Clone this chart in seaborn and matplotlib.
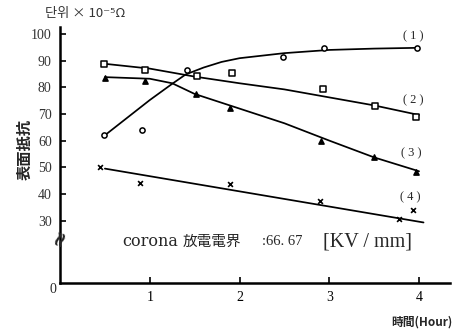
import matplotlib
matplotlib.use("Agg")
import matplotlib.pyplot as plt
import seaborn as sns
import pandas as pd

# ---- data ----
# curve (line) values
curve1_x = [0.5, 1.0, 1.25, 1.4, 1.6, 1.8, 2.0, 2.5, 3.0, 3.5, 4.0]
curve1 = [62.0, 75.2, 81.3, 84.8, 87.4, 89.5, 90.9, 92.8, 94.0, 94.5, 94.8]
curve2_x = [0.5, 1.0, 1.5, 2.0, 2.5, 3.0, 3.5, 4.0]
curve2 = [88.8, 87.0, 84.0, 81.5, 79.2, 76.2, 73.2, 69.6]
curve3_x = [0.5, 1.0, 1.25, 1.5, 2.0, 2.5, 3.0, 3.5, 4.0]
curve3 = [83.8, 83.2, 81.5, 77.5, 72.0, 66.5, 60.0, 53.7, 48.5]
curve4_x = [0.5, 4.05]
curve4 = [49.5, 29.3]

# measured points
pts1_x = [0.49, 0.91, 1.41, 2.48, 2.94, 3.98]
pts1_y = [62.0, 63.8, 86.5, 91.3, 94.8, 94.6]
pts2_x = [0.49, 0.95, 1.53, 1.92, 2.93, 3.51, 3.97]
pts2_y = [88.6, 86.4, 84.2, 85.2, 79.4, 73.0, 69.0]
pts3_x = [0.5, 0.95, 1.52, 1.89, 2.91, 3.5, 3.97]
pts3_y = [83.6, 82.3, 77.3, 72.3, 60.0, 53.8, 48.3]
pts4_x = [0.45, 0.89, 1.89, 2.9, 3.78, 3.93]
pts4_y = [50.0, 44.0, 43.7, 37.5, 30.6, 34.0]

series_labels = ["( 1 )", "( 2 )", "( 3 )", "( 4 )"]
y_ticks = [30, 40, 50, 60, 70, 80, 90, 100]
x_ticks = [1, 2, 3, 4]

sns.set_style("ticks")
plt.rcParams["font.family"] = ["Liberation Serif", "Noto Sans CJK JP", "DejaVu Sans"]

fig = plt.figure(figsize=(4.54, 3.33), dpi=100)
ax = fig.add_axes([60 / 454, 1 - 283 / 333, 390 / 454, 256 / 333])

curves = [(curve1_x, curve1), (curve2_x, curve2), (curve3_x, curve3), (curve4_x, curve4)]
for cx, cy in curves:
    df = pd.DataFrame({"x": cx, "y": cy})
    sns.lineplot(data=df, x="x", y="y", ax=ax, color="black", lw=1.25, sort=True)

pts = [(pts1_x, pts1_y, "o", "white"), (pts2_x, pts2_y, "s", "white"),
       (pts3_x, pts3_y, "^", "black"), (pts4_x, pts4_y, "x", "black")]
for px, py, m, fc in pts:
    df = pd.DataFrame({"x": px, "y": py})
    if m == "x":
        sns.scatterplot(data=df, x="x", y="y", ax=ax, marker=m, color="black",
                        s=12, linewidth=1.2, zorder=5)
    else:
        sns.scatterplot(data=df, x="x", y="y", ax=ax, marker=m, facecolor=fc,
                        edgecolor="black", s=14, linewidth=1.1, zorder=5)

ax.set_xlim(0, 4.345)
ax.set_ylim(6.6, 102.6)
ax.set_xticks(x_ticks)
ax.set_yticks(y_ticks)
ax.set_xticklabels([str(t) for t in x_ticks], fontsize=10)
ax.set_yticklabels([str(t) for t in y_ticks], fontsize=10, color="#333333")
ax.tick_params(axis="both", direction="in", length=4, width=1.2, colors="black")
ax.tick_params(axis="x", pad=6)
ax.tick_params(axis="y", pad=6)
for lbl in ax.get_yticklabels():
    lbl.set_color("#333333")
ax.set_xlabel("")
ax.set_ylabel("")
for side in ["top", "right"]:
    ax.spines[side].set_visible(False)
for side in ["left", "bottom"]:
    ax.spines[side].set_linewidth(1.8)
    ax.spines[side].set_color("black")

# series labels
lab_pos = [(3.94, 99.2), (3.93, 75.2), (3.91, 55.3), (3.90, 38.9)]
for (lx, ly), t in zip(lab_pos, series_labels):
    ax.text(lx, ly, t, fontsize=9, ha="center", va="center")

# origin label and axis break
ax.text(-0.04, 4.2, "0", fontsize=10, ha="right", va="center", clip_on=False)
ax.text(0, 23.5, "≈", fontsize=15, ha="center", va="center", rotation=70,
        clip_on=False, family=["DejaVu Sans"], fontweight="bold")

ax.text(0.69, 22.0, "corona", fontsize=11.5, ha="left", va="center",
        family=["DejaVu Serif"])
ax.text(1.37, 22.0, "放電電界", fontsize=10.5, ha="left", va="center",
        family=["Noto Sans CJK JP"], color="#222222")
ax.text(2.25, 22.0, ":66. 67", fontsize=10.5, ha="left", va="center",
        family=["Liberation Serif"])
ax.text(2.93, 22.0, "[KV / mm]", fontsize=14.5, ha="left", va="center",
        family=["Liberation Serif"])

fig.text(45 / 454, 1 - 14 / 333, "단위 × 10⁻⁵Ω", fontsize=9.5, ha="left", va="center",
         family=["Noto Sans CJK KR", "DejaVu Sans"], color="#333333")
fig.text(25 / 454, 1 - 149 / 333, "表面抵抗", fontsize=11, rotation=90, ha="center",
         va="center", family=["Noto Sans CJK JP"], fontweight="bold")
fig.text(453 / 454, 1 - 322 / 333, "時間(Hour)", fontsize=8.5, ha="right", va="center",
         family=["Noto Sans CJK JP", "DejaVu Sans"], fontweight="bold")

fig.savefig("out.png", dpi=100)
